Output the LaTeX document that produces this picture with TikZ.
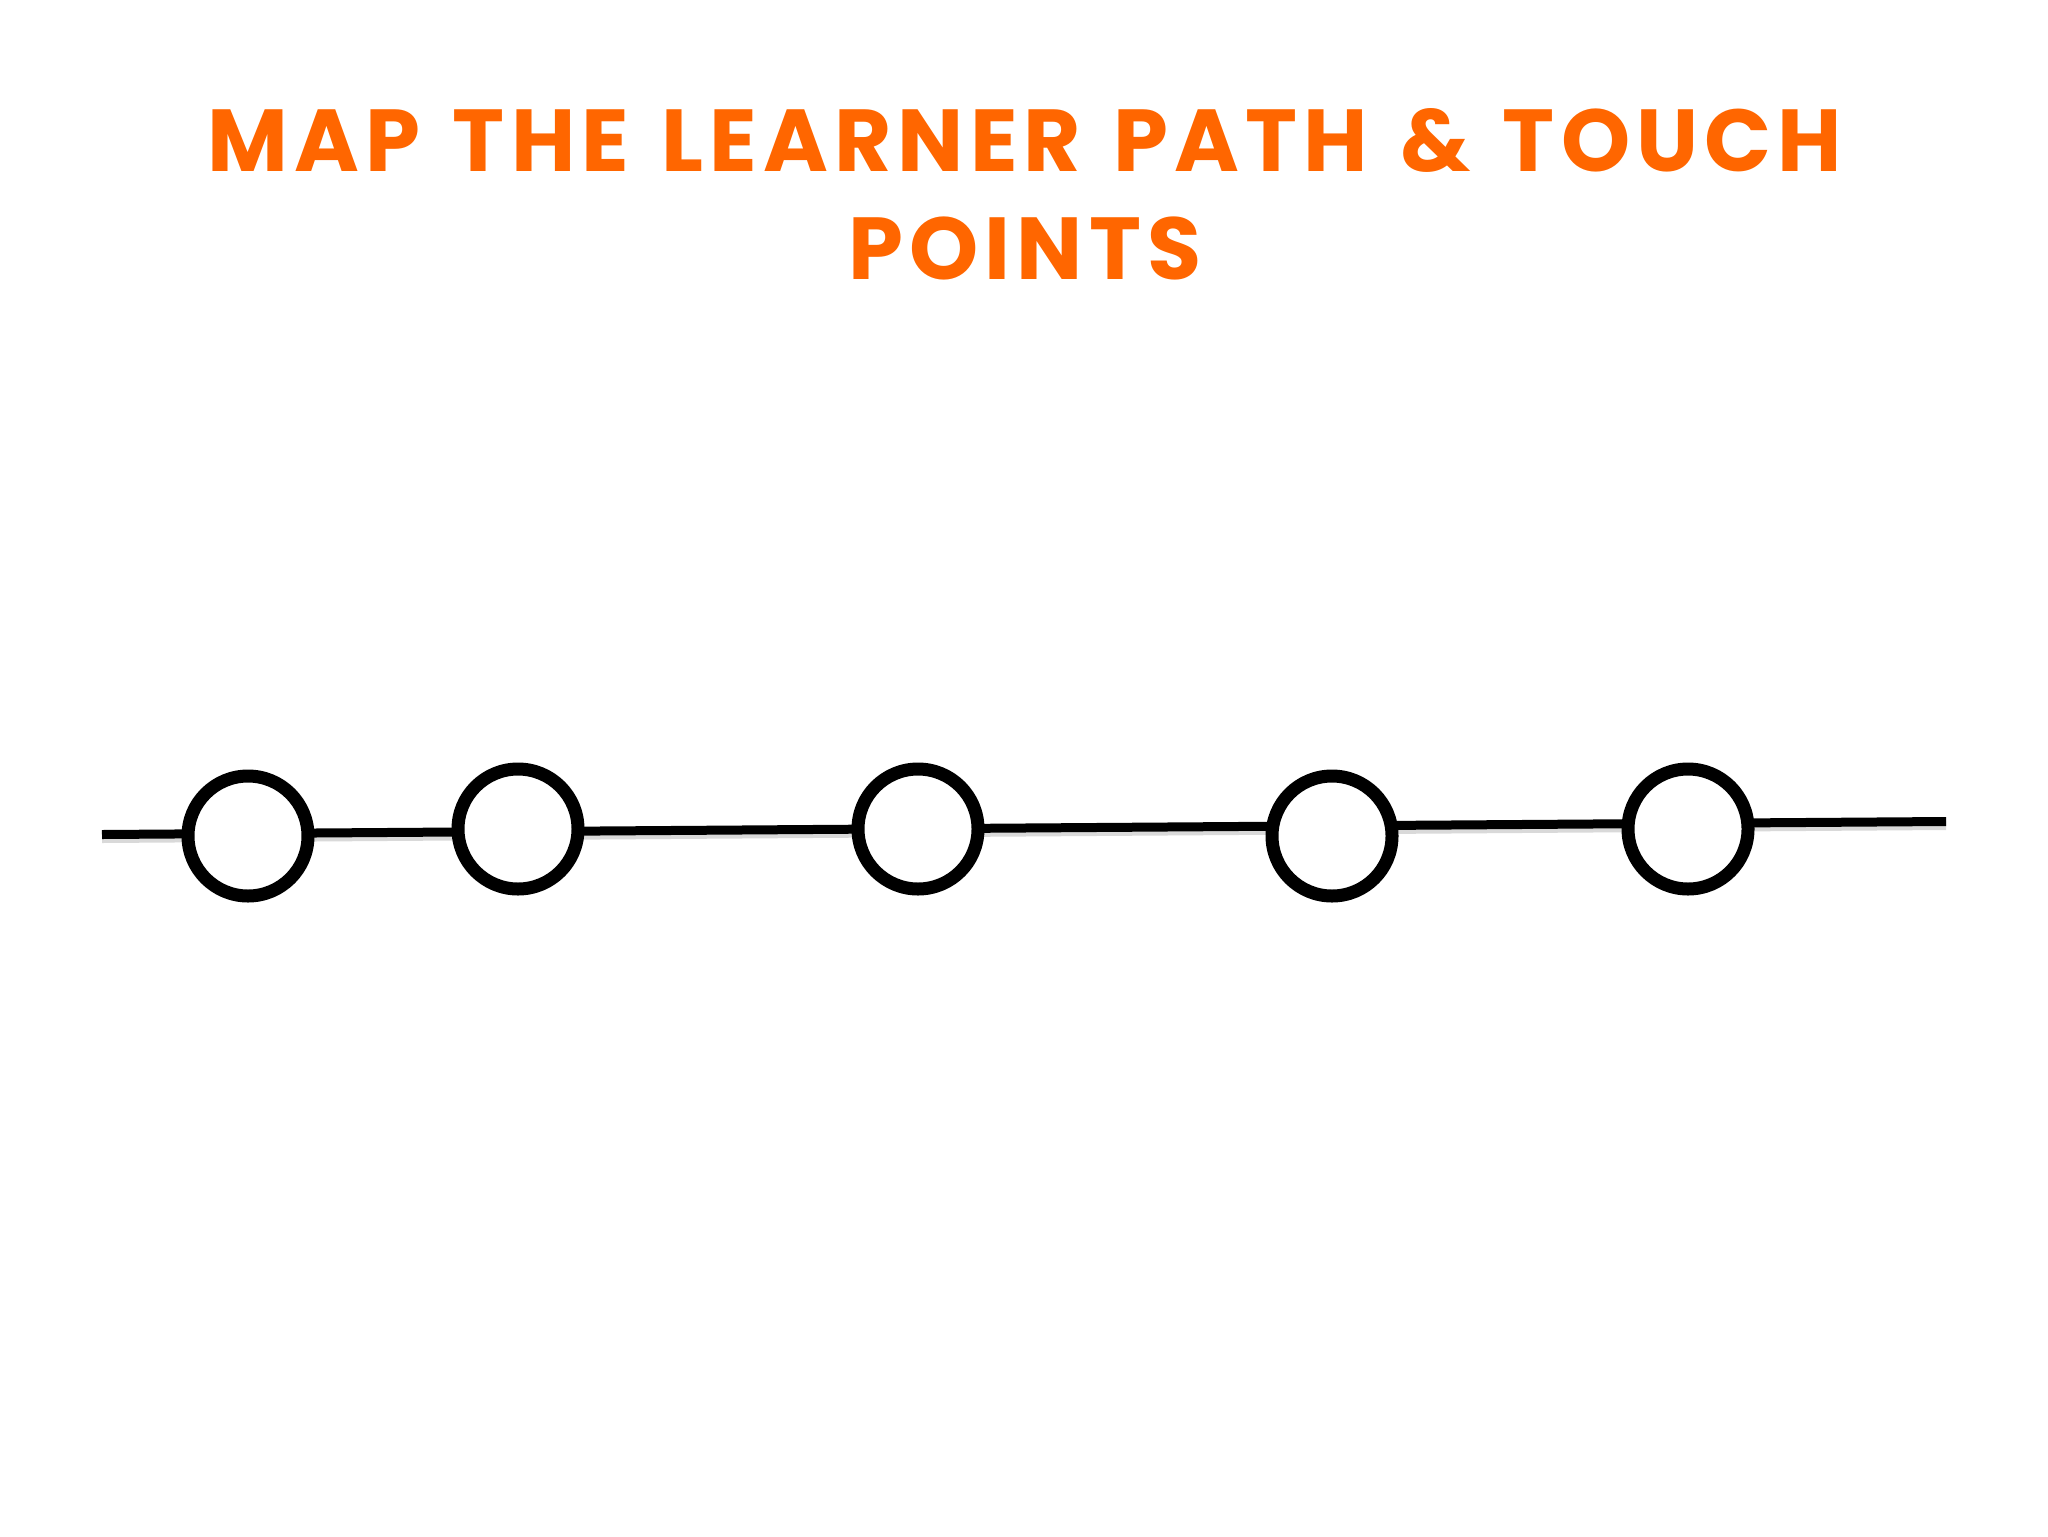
\documentclass[tikz,border=0pt]{standalone}
\usepackage{fontspec}
\newfontfamily\titlefont{Poppins}[LetterSpace=7,WordSpace=1.3]
\definecolor{titleorange}{HTML}{FF6600}
\begin{document}
\begin{tikzpicture}[x=0.5pt,y=-0.5pt,
  touch/.style={circle,draw=black,fill=white,line width=6.5pt,minimum size=60pt,inner sep=0pt},
  pathline/.style={draw=black,line width=4.5pt,
     preaction={draw=black!15,line width=4.5pt,transform canvas={yshift=-2pt}}},
  titletext/.style={text=titleorange,font=\titlefont\bfseries\fontsize{44}{52}\selectfont,anchor=base,inner sep=0pt}]
\useasboundingbox (0,0) rectangle (2048,1536);
\fill[white] (0,0) rectangle (2048,1536);
\node[titletext] (t1) at (1025,171) {MAP THE LEARNER PATH \& TOUCH};
\node[titletext] (t2) at (1025,279) {POINTS};
\coordinate (L) at (102,834.5);
\coordinate (R) at (1946,821.5);
\draw[pathline] (L) -- (R);
\node[touch] (c1) at (248,836) {};
\node[touch] (c2) at (518,829) {};
\node[touch] (c3) at (918,829) {};
\node[touch] (c4) at (1332,836) {};
\node[touch] (c5) at (1688,829) {};
\end{tikzpicture}
\end{document}
